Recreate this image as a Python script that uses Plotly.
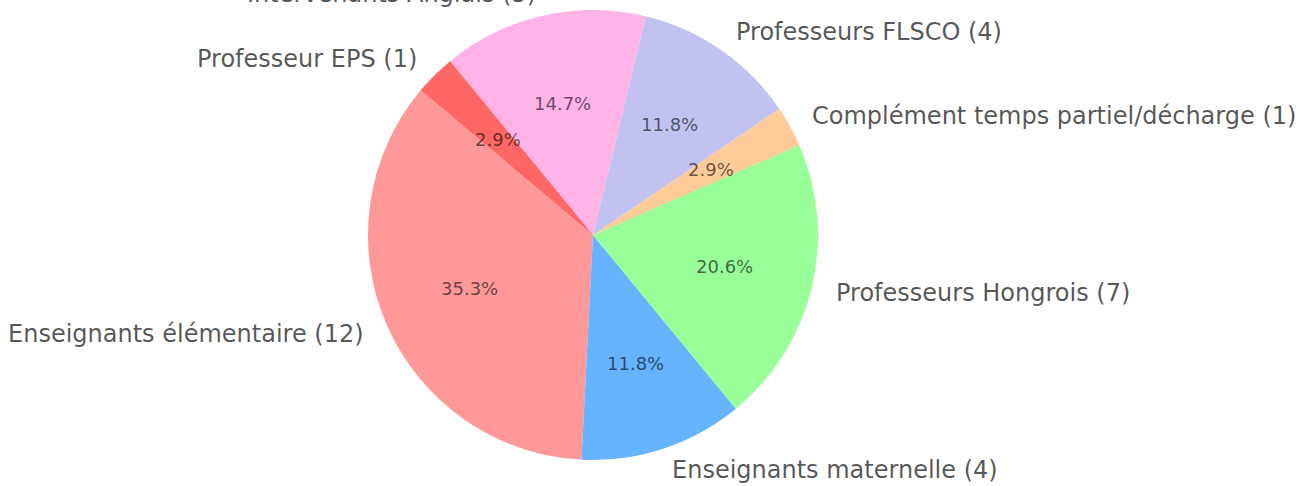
import math
import plotly.graph_objects as go

labels = [
    "Enseignants élémentaire",
    "Enseignants maternelle",
    "Professeurs Hongrois",
    "Complément temps partiel/décharge",
    "Professeurs FLSCO",
    "Intervenants Anglais",
    "Professeur EPS",
]
counts = [12, 4, 7, 1, 4, 5, 1]
colors = ["#ff9999", "#66b3ff", "#99ff99", "#ffcc99", "#c2c2f0", "#ffb3e6", "#ff6666"]
start_angle = 140  # degrees, counterclockwise from 3 o'clock

W, H = 1309, 486
# pie placement in pixels (center and radius)
cx, cy, r = 593, 235, 225
dom_x = [(cx - r) / W, (cx + r) / W]
dom_y = [(H - cy - r) / H, (H - cy + r) / H]

total = sum(counts)
# plotly's ccw mode anchors the first slice's far edge at `rotation`
rot = (90 - start_angle) - 360 * counts[0] / total

fig = go.Figure()
fig.add_trace(go.Pie(
    labels=labels, values=counts, sort=False,
    direction="counterclockwise", rotation=rot,
    marker=dict(colors=colors, line=dict(width=0)),
    textinfo="none",
    domain=dict(x=dom_x, y=dom_y), showlegend=False, hoverinfo="label+value+percent",
))

# labels at 1.1 r, percentages at 0.6 r, placed at each slice's mid angle
annotations = []
acc = 0
for lab, c in zip(labels, counts):
    mid = math.radians(start_angle + 360 * (acc + c / 2) / total)
    acc += c
    ca, sa = math.cos(mid), math.sin(mid)
    annotations.append(dict(
        x=(cx + 1.1 * r * ca) / W, y=(H - cy + 1.1 * r * sa) / H,
        xref="paper", yref="paper", showarrow=False,
        text=f"{lab} ({c})", xanchor="left" if ca > 0 else "right", yanchor="middle",
        font=dict(family="DejaVu Sans", size=24, color="rgba(0,0,0,0.68)"),
    ))
    annotations.append(dict(
        x=(cx + 0.6 * r * ca) / W, y=(H - cy + 0.6 * r * sa) / H,
        xref="paper", yref="paper", showarrow=False,
        text=f"{100 * c / total:.1f}%", xanchor="center", yanchor="middle",
        font=dict(family="DejaVu Sans", size=18, color="rgba(0,0,0,0.6)"),
    ))

fig.update_layout(
    width=W, height=H,
    margin=dict(l=0, r=0, t=0, b=0),
    paper_bgcolor="white", plot_bgcolor="white",
    annotations=annotations,
)

# drop the browser's default 8px body margin so the figure sits at (0, 0)
fig.write_html("out.html", config={"displayModeBar": False},
               post_script="document.body.style.margin = '0px';")
